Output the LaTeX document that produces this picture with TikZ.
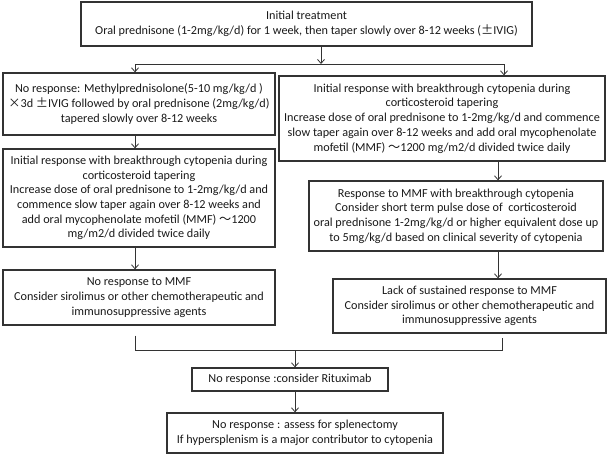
\documentclass[tikz,border=0pt]{standalone}
\usepackage{fontspec}
\setmainfont{Carlito}
\newfontfamily\cjk{Noto Sans CJK SC}
\usetikzlibrary{arrows.meta}
\begin{document}
\begin{tikzpicture}[x=1pt,y=-1pt,
  box/.style={draw=black!80,line width=1.3pt,align=center,inner sep=0pt,
    font=\fontsize{12.2}{14.7}\selectfont,text=black!90},
  conn/.style={draw=black!80,line width=0.8pt},
  arr/.style={conn,-{Straight Barb[length=4pt,width=7pt]}}]
\useasboundingbox (0,0) rectangle (609,456);
\node[box,minimum width=451,minimum height=44] (top) at (306.5,24)
  {Initial treatment\\Oral prednisone (1-2mg/kg/d) for 1 week, then taper slowly over 8-12 weeks ({\cjk ±}IVIG)};
\node[box,minimum width=272,minimum height=62] (L1) at (139,104)
  {No response: Methylprednisolone(5-10 mg/kg/d )\\{\cjk ×}3d {\cjk ±}IVIG followed by oral prednisone (2mg/kg/d)\\tapered slowly over 8-12 weeks};
\node[box,minimum width=326,minimum height=85] (R1) at (442,118.5)
  {Initial response with breakthrough cytopenia during\\corticosteroid tapering\\Increase dose of oral prednisone to 1-2mg/kg/d and commence\\slow taper again over 8-12 weeks and add oral mycophenolate\\mofetil (MMF) {\cjk ～}1200 mg/m2/d divided twice daily};
\node[box,minimum width=272,minimum height=98] (L2) at (139,198)
  {Initial response with breakthrough cytopenia during\\corticosteroid tapering\\Increase dose of oral prednisone to 1-2mg/kg/d and\\commence slow taper again over 8-12 weeks and\\add oral mycophenolate mofetil (MMF) {\cjk ～}1200\\mg/m2/d divided twice daily};
\node[box,minimum width=294,minimum height=70] (R2) at (456,216)
  {Response to MMF with breakthrough cytopenia\\Consider short term pulse dose of\ \ corticosteroid\\oral prednisone 1-2mg/kg/d or higher equivalent dose up\\to 5mg/kg/d based on clinical severity of cytopenia};
\node[box,minimum width=272,minimum height=55] (L3) at (139,297.5)
  {No response to MMF\\Consider sirolimus or other chemotherapeutic and\\immunosuppressive agents};
\node[box,minimum width=273,minimum height=54] (R3) at (469.5,306)
  {Lack of sustained response to MMF\\Consider sirolimus or other chemotherapeutic and\\immunosuppressive agents};
\node[box,minimum width=196,minimum height=23] (RIT) at (290,379.5)
  {No response :consider Rituximab};
\node[box,minimum width=276,minimum height=40] (SPL) at (305,433)
  {No response : assess for splenectomy\\If hypersplenism is a major contributor to cytopenia};
% top branching
\coordinate (tj) at (321,64);
\coordinate (tl) at (135,64);
\coordinate (tr) at (504,64);
\draw[arr] (top.south -| tj) -- (tj);
\draw[conn] (tl) -- (tr);
\draw[arr] (tl) -- (tl |- L1.north);
\draw[arr] (tr) -- (tr |- R1.north);
% left column
\draw[arr] (L1.south -| tl) -- (L2.north -| tl);
\draw[arr] (L2.south -| tl) -- (L3.north -| tl);
% right column
\coordinate (rc) at (498,0);
\draw[arr] (R1.south -| rc) -- (R2.north -| rc);
\draw[arr] (R2.south -| rc) -- (R3.north -| rc);
% merge
\coordinate (ml) at (135,350);
\coordinate (mr) at (502,350);
\coordinate (mc) at (295,350);
\draw[conn] ([yshift=-10pt]L3.south -| ml) -- (ml) -- (mr) -- ([yshift=-4pt]R3.south -| mr);
\draw[arr] (mc) -- (RIT.north -| mc);
\draw[arr] (RIT.south -| mc) -- (SPL.north -| mc);
\end{tikzpicture}
\end{document}
